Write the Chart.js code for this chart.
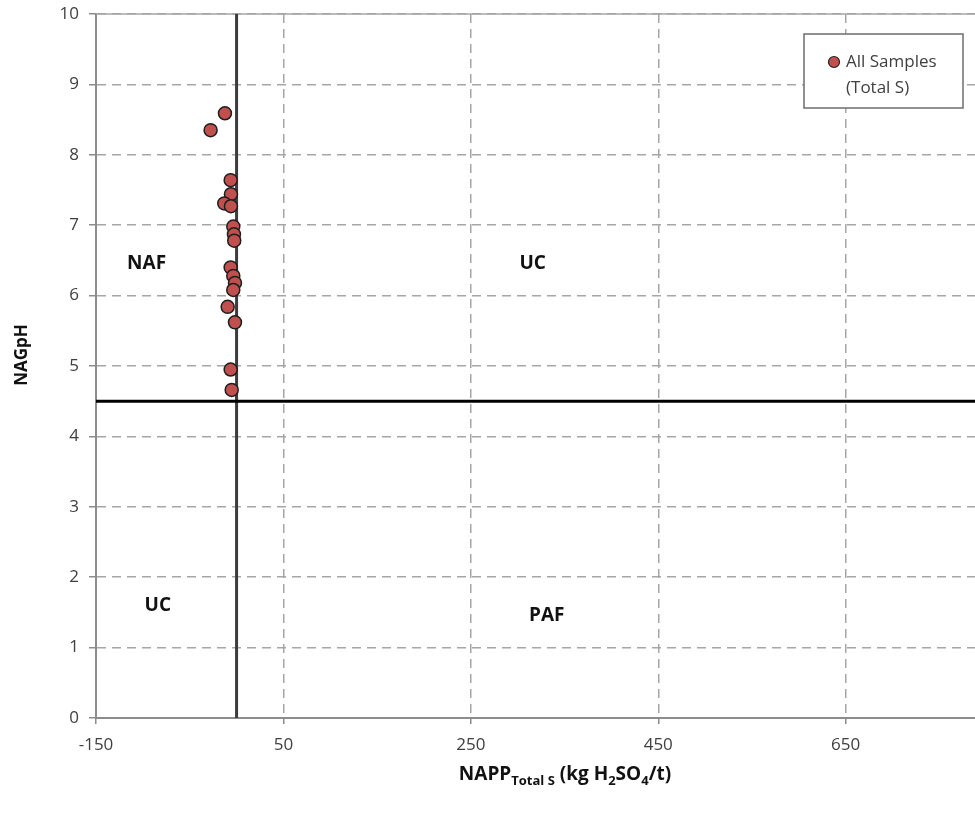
<!DOCTYPE html>
<html>
<head>
<meta charset="utf-8">
<script src="https://cdn.jsdelivr.net/npm/chart.js@4.4.1/dist/chart.umd.min.js"></script>
<style>
  html, body { margin: 0; padding: 0; background: #fff; }
  #wrap { width: 975px; height: 816px; }
</style>
</head>
<body>
<div id="wrap"><canvas id="myCanvas" width="975" height="816"></canvas></div>
<script>
// dati
let napp = [-12.4, -27.7, -6.3, -6.0, -13.1, -6.0, -3.5, -2.8, -2.5, -6.3, -3.5, -1.7, -3.5, -9.5, -1.7, -6.3, -5.2];
let nagph = [8.59, 8.35, 7.64, 7.44, 7.31, 7.27, 6.98, 6.87, 6.78, 6.40, 6.28, 6.18, 6.08, 5.84, 5.62, 4.95, 4.66];

let xTicks = [-150, 50, 250, 450, 650];
let yTicks = [0, 1, 2, 3, 4, 5, 6, 7, 8, 9, 10];

let serieLabel = ["All Samples", "(Total S)"];

// soglie di classificazione
let sogliaNapp = 0;
let sogliaPh = 4.5;

// etichette delle zone (testo, x, y in unita' dati)
let zone = [
    ["NAF", -96, 6.46],
    ["UC", 316, 6.46],
    ["UC", -84, 1.6],
    ["PAF", 331, 1.46]
];

const FONT = '"Open Sans", "Noto Sans", sans-serif';
const ROSSO = '#C0504D';

let ctx = document.getElementById("myCanvas").getContext('2d');

let punti = napp.map((v, i) => ({ x: v, y: nagph[i] }));

const extra = {
    id: 'extra',
    beforeDatasetsDraw(chart) {
        const c = chart.ctx;
        const xs = chart.scales.x, ys = chart.scales.y;
        const a = chart.chartArea;
        c.save();
        // linea superiore continua
        c.strokeStyle = '#A6A6A6';
        c.lineWidth = 1.5;
        c.beginPath();
        c.moveTo(a.left, a.top);
        c.lineTo(a.right, a.top);
        c.stroke();
        // soglia verticale
        let px = xs.getPixelForValue(sogliaNapp);
        c.strokeStyle = '#3c3c3c';
        c.lineWidth = 3;
        c.beginPath();
        c.moveTo(px, a.top);
        c.lineTo(px, a.bottom);
        c.stroke();
        // soglia orizzontale
        let py = ys.getPixelForValue(sogliaPh);
        c.strokeStyle = '#000';
        c.beginPath();
        c.moveTo(a.left, py);
        c.lineTo(a.right, py);
        c.stroke();
        // etichette zone
        c.fillStyle = '#111';
        c.font = 'bold 19px ' + FONT;
        c.textAlign = 'center';
        c.textBaseline = 'middle';
        zone.forEach(z => {
            c.fillText(z[0], xs.getPixelForValue(z[1]), ys.getPixelForValue(z[2]));
        });
        c.restore();
    },
    afterDraw(chart) {
        const c = chart.ctx;
        c.save();
        // legenda
        c.fillStyle = '#fff';
        c.fillRect(804, 34, 159, 74);
        c.strokeStyle = '#6e6e6e';
        c.lineWidth = 1.5;
        c.strokeRect(804, 34, 159, 74);
        c.beginPath();
        c.arc(834, 62, 5.5, 0, Math.PI * 2);
        c.fillStyle = ROSSO;
        c.fill();
        c.lineWidth = 1.2;
        c.strokeStyle = '#222';
        c.stroke();
        c.fillStyle = '#404040';
        c.font = '17px ' + FONT;
        c.textAlign = 'left';
        c.textBaseline = 'middle';
        c.fillText(serieLabel[0], 846, 62);
        c.fillText(serieLabel[1], 846, 88);

        // titolo asse y
        c.fillStyle = '#111';
        c.font = 'bold 17px ' + FONT;
        c.translate(22, 355);
        c.rotate(-Math.PI / 2);
        c.textAlign = 'center';
        c.fillText('NAGpH', 0, 0);
        c.restore();

        // titolo asse x con pedici
        c.save();
        c.fillStyle = '#111';
        c.textBaseline = 'alphabetic';
        const parti = [
            ['NAPP', 19, 0],
            ['Total S', 13, 5],
            [' (kg H', 19, 0],
            ['2', 13, 5],
            ['SO', 19, 0],
            ['4', 13, 5],
            ['/t)', 19, 0]
        ];
        let tot = 0;
        parti.forEach(p => { c.font = 'bold ' + p[1] + 'px ' + FONT; tot += c.measureText(p[0]).width; });
        let x0 = 565 - tot / 2;
        parti.forEach(p => {
            c.font = 'bold ' + p[1] + 'px ' + FONT;
            c.fillText(p[0], x0, 780 + p[2]);
            x0 += c.measureText(p[0]).width;
        });
        c.restore();
    }
};

let chart = new Chart(ctx, {
    type: 'scatter',
    data: {
        datasets: [{
            label: serieLabel.join(' '),
            data: punti,
            backgroundColor: ROSSO,
            borderColor: '#1e1e1e',
            borderWidth: 1.5,
            pointRadius: 6.5,
            pointHoverRadius: 6.5
        }]
    },
    options: {
        responsive: false,
        animation: false,
        layout: { autoPadding: false, padding: { top: 14, right: 0, left: 0, bottom: 0 } },
        plugins: {
            legend: { display: false },
            tooltip: { enabled: false }
        },
        scales: {
            x: {
                type: 'linear',
                min: -150,
                max: 788,
                afterBuildTicks: s => { s.ticks = xTicks.map(v => ({ value: v })); },
                afterFit: s => {
                    s.height = 98;
                    s.paddingLeft = 0;
                    s.paddingRight = 0;
                },
                grid: {
                    color: '#A6A6A6',
                    lineWidth: 1.5,
                    tickLength: 6,
                    tickColor: '#8C8C8C'
                },
                border: { color: '#8C8C8C', width: 2, dash: [9, 6] },
                ticks: {
                    color: '#404040',
                    font: { family: FONT, size: 17 },
                    padding: 11,
                    maxRotation: 0
                }
            },
            y: {
                min: 0,
                max: 10,
                afterBuildTicks: s => { s.ticks = yTicks.map(v => ({ value: v })); },
                afterFit: s => {
                    s.width = 96;
                    s.paddingTop = 0;
                    s.paddingBottom = 0;
                },
                grid: {
                    color: '#A6A6A6',
                    lineWidth: 1.5,
                    tickLength: 7,
                    tickColor: '#8C8C8C'
                },
                border: { color: '#8C8C8C', width: 2, dash: [9, 6] },
                ticks: {
                    color: '#404040',
                    font: { family: FONT, size: 17 },
                    padding: 10
                }
            }
        }
    },
    plugins: [extra]
});
</script>
</body>
</html>
